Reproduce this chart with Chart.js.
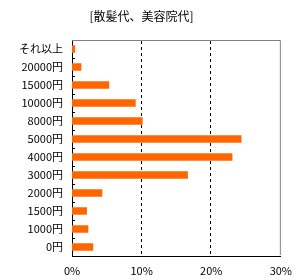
<!doctype html>
<html>
<head>
<meta charset="utf-8">
<title>散髪代、美容院代</title>
<script src="https://cdn.jsdelivr.net/npm/chart.js@4/dist/chart.umd.min.js"></script>
<style>
html, body { margin: 0; padding: 0; background: #fff; }
#container { width: 300px; height: 280px; }
</style>
</head>
<body>
<div id="container"><canvas id="canvas"></canvas></div>
<script>
// data
var categories = ['それ以上', '20000円', '15000円', '10000円', '8000円', '5000円',
                  '4000円', '3000円', '2000円', '1500円', '1000円', '0円'];
var shares = [0.4, 1.3, 5.3, 9.1, 10.1, 24.3, 23.0, 16.6, 4.3, 2.1, 2.3, 3.0];
var xTicks = [0, 10, 20, 30];

var FONT = "'Noto Sans CJK JP', 'DejaVu Sans', sans-serif";

// dashed grid, gray top/right frame, short inner ticks between categories
var framePlugin = {
	id: 'frame',
	beforeDatasetsDraw: function(chart) {
		var ctx = chart.ctx, a = chart.chartArea, x = chart.scales.x;
		ctx.save();
		ctx.strokeStyle = '#000';
		ctx.lineWidth = 1;
		ctx.setLineDash([3, 3]);
		ctx.beginPath();
		for (var i = 1; i < xTicks.length - 1; i++) {
			var px = Math.round(x.getPixelForValue(xTicks[i])) - 0.5;
			ctx.moveTo(px, a.top + 1);
			ctx.lineTo(px, a.bottom);
		}
		ctx.stroke();
		ctx.restore();
	},
	afterDraw: function(chart) {
		var ctx = chart.ctx, a = chart.chartArea, y = chart.scales.y;
		ctx.save();
		ctx.strokeStyle = '#808080';
		ctx.lineWidth = 1;
		ctx.beginPath();
		ctx.moveTo(a.left, a.top + 0.5);
		ctx.lineTo(a.right - 0.5, a.top + 0.5);
		ctx.lineTo(a.right - 0.5, a.bottom - 1);
		ctx.stroke();
		ctx.strokeStyle = '#000';
		ctx.beginPath();
		for (var i = 1; i < categories.length; i++) {
			var py = Math.round((y.getPixelForValue(i - 1) + y.getPixelForValue(i)) / 2) + 0.5;
			ctx.moveTo(a.left, py);
			ctx.lineTo(a.left + 3, py);
		}
		ctx.stroke();
		ctx.restore();
	}
};

var ctx = document.getElementById('canvas').getContext('2d');
new Chart(ctx, {
	type: 'bar',
	data: {
		labels: categories,
		datasets: [{
			data: shares,
			backgroundColor: '#FF6600',
			borderWidth: 0,
			barThickness: 7
		}]
	},
	options: {
		indexAxis: 'y',
		responsive: true,
		maintainAspectRatio: false,
		animation: false,
		layout: { padding: { left: 0, right: 17, top: 0, bottom: 0 } },
		plugins: {
			legend: { display: false },
			tooltip: { enabled: false },
			title: {
				display: true,
				text: '[散髪代、美容院代]',
				color: '#000',
				font: { family: FONT, size: 12, weight: 'normal', lineHeight: 1.2 },
				padding: { top: 9, bottom: 16.6 }
			}
		},
		scales: {
			x: {
				min: xTicks[0],
				max: xTicks[xTicks.length - 1],
				afterBuildTicks: function(scale) {
					scale.ticks = xTicks.map(function(v) { return { value: v }; });
				},
				afterFit: function(scale) { scale.height = 24; },
				border: { display: true, color: '#000', width: 1 },
				grid: { display: false, drawTicks: false },
				ticks: {
					color: '#000',
					padding: 8,
					maxRotation: 0,
					font: { family: FONT, size: 11 },
					callback: function(v) { return v + '%'; }
				}
			},
			y: {
				afterFit: function(scale) { scale.width = 72; },
				border: { display: true, color: '#000', width: 1 },
				grid: { display: false, drawTicks: false },
				ticks: {
					color: '#000',
					padding: 9,
					autoSkip: false,
					font: { family: FONT, size: 11 }
				}
			}
		}
	},
	plugins: [framePlugin]
});
</script>
</body>
</html>
